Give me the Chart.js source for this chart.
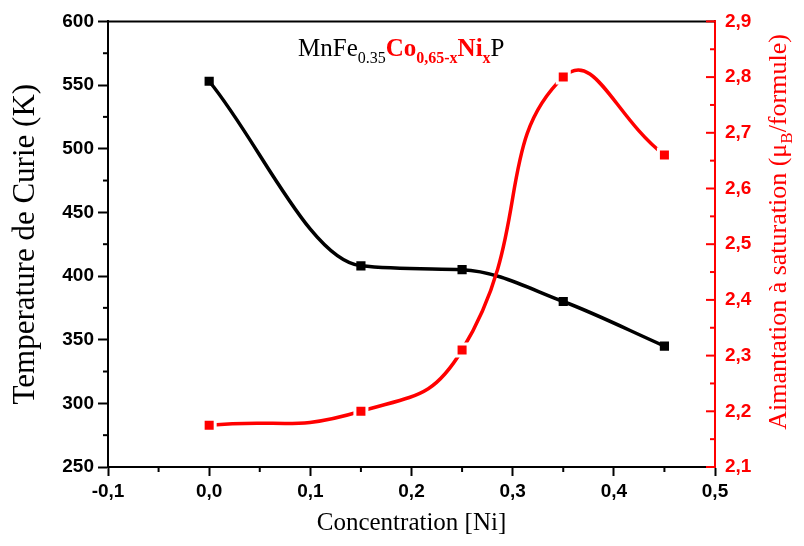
<!DOCTYPE html>
<html>
<head>
<meta charset="utf-8">
<script src="https://cdn.jsdelivr.net/npm/chart.js@4"></script>
<style>
  html, body { margin: 0; padding: 0; background: #fff; }
  #wrap { width: 804px; height: 546px; }
</style>
</head>
<body>
<div id="wrap"><canvas id="curieChart" width="804" height="546"></canvas></div>
<script>
// Data
const concentration = [0.0, 0.15, 0.25, 0.35, 0.45];
const curieTemp = [553, 408, 405, 380, 345];          // K (left axis)
const saturation = [2.175, 2.2, 2.31, 2.8, 2.66];     // muB/formule (right axis)

const xTicks = [-0.1, 0.0, 0.1, 0.2, 0.3, 0.4, 0.5];
const yTicks = [250, 300, 350, 400, 450, 500, 550, 600];
const y1Ticks = [2.1, 2.2, 2.3, 2.4, 2.5, 2.6, 2.7, 2.8, 2.9];

const RED = '#ff0000';
const SANS = "'Liberation Sans', Arial, sans-serif";
const SERIF = "'Liberation Serif', 'Times New Roman', serif";

const comma = v => Number(v).toFixed(1).replace('.', ',');

// minor ticks, top frame, right axis ticks, rich text labels
const decorPlugin = {
  id: 'decor',
  afterDraw(chart) {
    const { ctx, chartArea: a, scales } = chart;
    ctx.save();
    ctx.lineCap = 'butt';

    // top frame line
    ctx.strokeStyle = '#000'; ctx.lineWidth = 2;
    ctx.beginPath(); ctx.moveTo(a.left, a.top); ctx.lineTo(a.right, a.top); ctx.stroke();

    // bottom minor ticks (outward)
    for (let i = 0; i < xTicks.length - 1; i++) {
      const px = scales.x.getPixelForValue((xTicks[i] + xTicks[i + 1]) / 2);
      ctx.beginPath(); ctx.moveTo(px, a.bottom); ctx.lineTo(px, a.bottom + 5); ctx.stroke();
    }
    // left minor ticks (outward)
    for (let i = 0; i < yTicks.length - 1; i++) {
      const py = scales.y.getPixelForValue((yTicks[i] + yTicks[i + 1]) / 2);
      ctx.beginPath(); ctx.moveTo(a.left, py); ctx.lineTo(a.left - 5, py); ctx.stroke();
    }
    // right axis ticks (inward), red
    ctx.strokeStyle = RED;
    y1Ticks.forEach((t, i) => {
      const py = scales.y1.getPixelForValue(t);
      ctx.beginPath(); ctx.moveTo(a.right, py); ctx.lineTo(a.right - 9, py); ctx.stroke();
      if (i < y1Ticks.length - 1) {
        const pm = scales.y1.getPixelForValue((t + y1Ticks[i + 1]) / 2);
        ctx.beginPath(); ctx.moveTo(a.right, pm); ctx.lineTo(a.right - 5, pm); ctx.stroke();
      }
    });

    // rich text helper: parts = [text, font, color, dy]
    const drawParts = (parts, x, y) => {
      ctx.textBaseline = 'alphabetic'; ctx.textAlign = 'left';
      parts.forEach(([t, f, c, dy]) => {
        ctx.font = f; ctx.fillStyle = c;
        ctx.fillText(t, x, y + dy);
        x += ctx.measureText(t).width;
      });
    };

    // formula label inside plot
    drawParts([
      ['MnFe', `25px ${SERIF}`, '#000', 0],
      ['0.35', `16px ${SERIF}`, '#000', 7],
      ['Co', `bold 25px ${SERIF}`, RED, 0],
      ['0,65-x', `bold 16px ${SERIF}`, RED, 7],
      ['Ni', `bold 25px ${SERIF}`, RED, 0],
      ['x', `bold 16px ${SERIF}`, RED, 7],
      ['P', `25px ${SERIF}`, '#000', 0],
    ], 298, 56);

    // right axis title, rotated
    const rParts = [
      ['Aimantation à saturation (μ', `26px ${SERIF}`, RED, 0],
      ['B', `17px ${SERIF}`, RED, 6],
      ['/formule)', `26px ${SERIF}`, RED, 0],
    ];
    let w = 0;
    rParts.forEach(([t, f]) => { ctx.font = f; w += ctx.measureText(t).width; });
    ctx.translate(786, 232);
    ctx.rotate(-Math.PI / 2);
    drawParts(rParts, -w / 2, 0);

    ctx.restore();
  }
};

new Chart(document.getElementById('curieChart'), {
  type: 'line',
  data: {
    datasets: [
      {
        label: 'Temperature de Curie',
        data: concentration.map((c, i) => ({ x: c, y: curieTemp[i] })),
        yAxisID: 'y',
        borderColor: '#000',
        backgroundColor: '#000',
        borderWidth: 3.5,
        cubicInterpolationMode: 'monotone',
        pointStyle: 'rect',
        pointRadius: 6.5,
        pointBorderWidth: 0,
        order: 1
      },
      {
        label: 'Aimantation à saturation',
        data: concentration.map((c, i) => ({ x: c, y: saturation[i] })),
        yAxisID: 'y1',
        borderColor: RED,
        backgroundColor: RED,
        borderWidth: 3.5,
        tension: 0.5,
        pointStyle: 'rect',
        pointRadius: 8.5,
        pointBorderColor: '#fff',
        pointBorderWidth: 3,
        order: 0
      }
    ]
  },
  options: {
    responsive: false,
    animation: false,
    layout: { padding: { top: 18, left: 0, right: 0, bottom: 0 } },
    plugins: { legend: { display: false }, tooltip: { enabled: false } },
    scales: {
      x: {
        type: 'linear',
        position: 'bottom',
        min: xTicks[0], max: xTicks[xTicks.length - 1],
        afterBuildTicks: s => { s.ticks = xTicks.map(v => ({ value: v })); },
        afterFit: s => { s.height = 79; },
        ticks: { callback: v => comma(v), color: '#000', font: { family: SANS, size: 19, weight: 'bold' }, padding: 4, maxRotation: 0 },
        grid: { drawOnChartArea: false, tickLength: 9, tickColor: '#000', tickWidth: 2 },
        border: { color: '#000', width: 2 },
        title: { display: true, text: 'Concentration [Ni]', color: '#000', font: { family: SERIF, size: 25 }, padding: { top: 4, bottom: 8 } }
      },
      y: {
        position: 'left',
        min: yTicks[0], max: yTicks[yTicks.length - 1],
        afterBuildTicks: s => { s.ticks = yTicks.map(v => ({ value: v })); },
        afterFit: s => { s.width = 108; },
        ticks: { color: '#000', font: { family: SANS, size: 19, weight: 'bold' }, padding: 4 },
        grid: { drawOnChartArea: false, tickLength: 10, tickColor: '#000', tickWidth: 2 },
        border: { color: '#000', width: 2 },
        title: { display: true, text: 'Temperature de Curie (K)', color: '#000', font: { family: SERIF, size: 31 }, padding: { top: 7, bottom: 4 } }
      },
      y1: {
        position: 'right',
        min: y1Ticks[0], max: y1Ticks[y1Ticks.length - 1],
        afterBuildTicks: s => { s.ticks = y1Ticks.map(v => ({ value: v })); },
        afterFit: s => { s.width = 89; },
        ticks: { callback: v => comma(v), color: RED, font: { family: SANS, size: 19, weight: 'bold' }, padding: 10 },
        grid: { display: false, drawTicks: false },
        border: { color: RED, width: 2 }
      }
    }
  },
  plugins: [decorPlugin]
});
</script>
</body>
</html>
